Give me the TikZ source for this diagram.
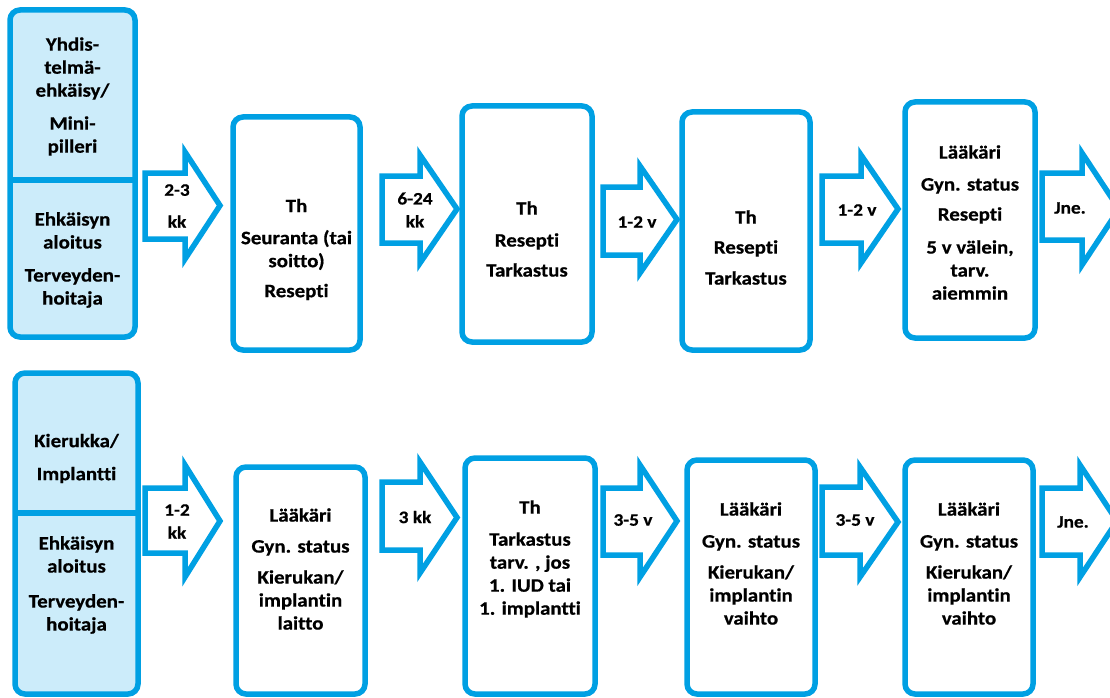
\documentclass[tikz,border=0pt]{standalone}
\usepackage{fontspec}
\setmainfont{Carlito}[FakeStretch=1.1, Ligatures=NoCommon, BoldFeatures={FakeBold=0.6}]
\definecolor{cblue}{RGB}{0,160,227}
\definecolor{lblue}{RGB}{204,236,250}
\newcommand{\boxat}[6]{\node[#6, minimum width={#4-#2}, minimum height={#5-#3}] (#1) at ({(#2+#4)/2},{(#3+#5)/2}) {};}
\newcommand{\barrowat}[7]{\draw[barrow] (#1,#4) -- (#2,#4) -- (#2,#6) -- (#3,{(#6+#7)/2}) -- (#2,#7) -- (#2,#5) -- (#1,#5) -- cycle;}
\begin{document}
\begin{tikzpicture}[x=1pt,y=-1pt,
  box/.style={draw=cblue, line width=5.5pt, rounded corners=10pt, inner sep=0pt, outer sep=0pt, fill=white},
  startbox/.style={box, fill=lblue},
  barrow/.style={draw=cblue, line width=5.5pt, fill=white, line join=miter},
  txt/.style={font=\bfseries\fontsize{19}{23}\selectfont, align=center, inner sep=0pt, text=black},
  lbl/.style={font=\bfseries\fontsize{17.5}{23}\selectfont, align=center, inner sep=0pt, text=black},
  divider/.style={draw=cblue, line width=5.5pt},
]
\useasboundingbox[fill=white] (0,0) rectangle (1110,698);
% ---- top row boxes
\boxat{t0}{10}{10}{135}{337}{startbox}
\boxat{t1}{233}{117}{360}{350}{box}
\boxat{t2}{462}{106}{592}{342}{box}
\boxat{t3}{682}{112}{810}{350}{box}
\boxat{t4}{905}{102}{1035}{338}{box}
% ---- bottom row boxes
\boxat{b0}{15}{373}{138}{694}{startbox}
\boxat{b1}{236}{467}{365}{694}{box}
\boxat{b2}{465}{458}{595}{694}{box}
\boxat{b3}{687}{460}{815}{694}{box}
\boxat{b4}{905}{460}{1033}{694}{box}
% dividers
\coordinate (dt) at (0,180);
\coordinate (db) at (0,513);
\draw[divider] (t0.west |- dt) -- (t0.east |- dt);
\draw[divider] (b0.west |- db) -- (b0.east |- db);
% ---- block arrows
\barrowat{145}{185}{220}{173}{239}{152}{259}
\barrowat{382}{420}{457}{176}{243}{155}{263}
\barrowat{603}{640}{677}{187}{255}{166}{273}
\barrowat{822}{861}{898}{176}{243}{155}{263}
\barrowat{1042}{1082}{1119}{173}{240}{153}{265}
\barrowat{145}{185}{220}{488}{553}{465}{577}
\barrowat{382}{420}{457}{482}{550}{462}{573}
\barrowat{603}{640}{677}{488}{555}{465}{577}
\barrowat{822}{860}{898}{487}{555}{467}{577}
\barrowat{1042}{1080}{1117}{488}{555}{465}{577}
% ---- texts top
\node[txt] (t0a) at (72.5,96.5) {Yhdis-\\telmä-\\ehkäisy/\\[10pt]Mini-\\pilleri};
\node[txt] (t0b) at (72.5,260) {Ehkäisyn\\aloitus\\[10pt]Terveyden-\\hoitaja};
\node[txt] (t1a) at (296.5,249.5) {Th\\[9pt]Seuranta (tai\\soitto)\\[7pt]Resepti};
\node[txt] (t2a) at (527,239) {Th\\[9pt]Resepti\\[7pt]Tarkastus};
\node[txt] (t3a) at (746,247.5) {Th\\[7pt]Resepti\\[8pt]Tarkastus};
\node[txt] (t4a) at (970,222.5) {Lääkäri\\[9pt]Gyn. status\\[7pt]Resepti\\[10pt]5 v välein,\\tarv.\\aiemmin};
% ---- texts bottom
\node[txt] (b0a) at (76.5,458.5) {Kierukka/\\[10pt]Implantti};
\node[txt] (b0b) at (76.5,585) {Ehkäisyn\\aloitus\\[12pt]Terveyden-\\hoitaja};
\node[txt] (b1a) at (300.5,569) {Lääkäri\\[8pt]Gyn. status\\[8pt]Kierukan/\\implantin\\laitto};
\node[txt] (b2a) at (530,559) {Th\\[9pt]Tarkastus\\tarv. , jos\\1. IUD tai\\1. implantti};
\node[txt] (b3a) at (751,563.5) {Lääkäri\\[9pt]Gyn. status\\[8pt]Kierukan/\\implantin\\vaihto};
\node[txt] (b4a) at (969,563.5) {Lääkäri\\[9pt]Gyn. status\\[8pt]Kierukan/\\implantin\\vaihto};
% ---- arrow labels
\node[lbl] (l1) at (177,206) {2-3\\[9pt]kk};
\node[lbl] (l2) at (415,210) {6-24\\kk};
\node[lbl] (l3) at (637,222) {1-2 v};
\node[lbl] (l4) at (857,210) {1-2 v};
\node[lbl] (l5) at (1070,208) {Jne.};
\node[lbl] (m1) at (177,521.5) {1-2\\kk};
\node[lbl] (m2) at (415,517) {3 kk};
\node[lbl] (m3) at (633,520) {3-5 v};
\node[lbl] (m4) at (855,520) {3-5 v};
\node[lbl] (m5) at (1073,522) {Jne.};
\end{tikzpicture}
\end{document}
